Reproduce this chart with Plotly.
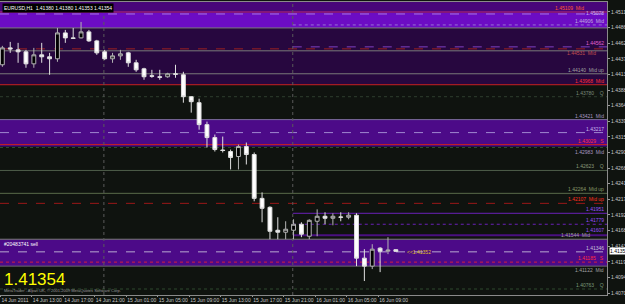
import plotly.graph_objects as go

# ---------------- data ----------------
bars = list(range(51))
opens = [1.44281, 1.44546, 1.44515, 1.44484, 1.44296, 1.44437, 1.44406, 1.44375, 1.44781, 1.44703,
         1.44703, 1.44797, 1.44656, 1.44484, 1.44375, 1.44421, 1.44468, 1.44312, 1.44218, 1.44109,
         1.44093, 1.44093, 1.44140, 1.44124, 1.43780, 1.43686, 1.43342, 1.43139, 1.42944, 1.42920,
         1.42842, 1.42998, 1.42873, 1.42185, 1.42045, 1.41685, 1.41654, 1.41685, 1.41779, 1.41591,
         1.41826, 1.41904, 1.41873, 1.41893, 1.41889, 1.41920, 1.41247, 1.41122, 1.41404, 1.41357,
         1.41380]
highs = [1.44578, 1.44640, 1.44625, 1.44515, 1.44546, 1.44625, 1.44468, 1.44859, 1.44828, 1.44859,
         1.44953, 1.44828, 1.44672, 1.44515, 1.44468, 1.44515, 1.44484, 1.44359, 1.44234, 1.44202,
         1.44202, 1.44156, 1.44281, 1.44171, 1.43790, 1.43749, 1.43389, 1.43186, 1.43155, 1.42951,
         1.43029, 1.43061, 1.42905, 1.42279, 1.42060, 1.41889, 1.41826, 1.41857, 1.41810, 1.41857,
         1.42013, 1.41967, 1.41951, 1.41967, 1.41967, 1.41951, 1.41388, 1.41466, 1.41419, 1.41576,
         1.41380]
lows = [1.44249, 1.44468, 1.44312, 1.44234, 1.44234, 1.44312, 1.44124, 1.44328, 1.44625, 1.44687,
        1.44695, 1.44640, 1.44437, 1.44359, 1.44312, 1.44359, 1.44249, 1.44171, 1.44046, 1.44077,
        1.44046, 1.44077, 1.44077, 1.43686, 1.43530, 1.43263, 1.42983, 1.42920, 1.42905, 1.42639,
        1.42639, 1.42717, 1.42139, 1.41810, 1.41544, 1.41544, 1.41544, 1.41544, 1.41576, 1.41544,
        1.41591, 1.41779, 1.41763, 1.41826, 1.41857, 1.41122, 1.40888, 1.41075, 1.41028, 1.41310,
        1.41353]
closes = [1.44546, 1.44530, 1.44484, 1.44296, 1.44437, 1.44406, 1.44375, 1.44781, 1.44703, 1.44695,
          1.44797, 1.44656, 1.44468, 1.44375, 1.44421, 1.44453, 1.44312, 1.44202, 1.44093, 1.44101,
          1.44085, 1.44140, 1.44132, 1.43780, 1.43702, 1.43342, 1.43139, 1.42951, 1.42936, 1.42827,
          1.42998, 1.42873, 1.42185, 1.42029, 1.41669, 1.41654, 1.41701, 1.41779, 1.41623, 1.41841,
          1.41904, 1.41873, 1.41904, 1.41889, 1.41920, 1.41247, 1.41122, 1.41388, 1.41357, 1.41372,
          1.41354]

price_ticks = [1.40700, 1.40945, 1.41190, 1.41435, 1.41680, 1.41925, 1.42170, 1.42415, 1.42660,
               1.42905, 1.43150, 1.43395, 1.43640, 1.43885, 1.44130, 1.44375, 1.44620, 1.44865, 1.45110]
time_tick_bars = [0, 4, 8, 12, 16, 20, 24, 28, 32, 36, 40, 44, 48]
time_tick_labels = ["14 Jun 2011", "14 Jun 13:00", "14 Jun 17:00", "14 Jun 21:00", "15 Jun 01:00",
                    "15 Jun 05:00", "15 Jun 09:00", "15 Jun 13:00", "15 Jun 17:00", "15 Jun 21:00",
                    "16 Jun 01:00", "16 Jun 05:00", "16 Jun 09:00"]

# zones: (top price, bottom price, colour)
zone_tops = [1.45266, 1.45094, 1.44859, 1.43421, 1.41544]
zone_bottoms = [1.45094, 1.44859, 1.43968, 1.42998, 1.41122]
zone_colors = ["#48067a", "#6c0cc4", "#27073f", "#4c0a88", "#4c0a88"]

# horizontal levels
level_prices = [1.45109, 1.45078, 1.44906, 1.44859, 1.44562, 1.44531, 1.44500, 1.44140, 1.43968,
                1.43780, 1.43421, 1.43217, 1.43029, 1.42983, 1.42623, 1.42264, 1.42107, 1.41951,
                1.41779, 1.41607, 1.41544, 1.41346, 1.41185, 1.41122, 1.40763]
level_colors = ["#c02878", "#a878e0", "#9a70d8", "#7a7a7a", "#8040c0", "#9a2020", "#7a7a7a", "#7a7a7a",
                "#c82020", "#2e3e2e", "#7a6a9a", "#a088d0", "#c82020", "#2e4a2e", "#4e5e4a", "#5a6a4a",
                "#9a1818", "#6a20b8", "#6a20b8", "#4a1080", "#7a7a7a", "#b8a8d0", "#d02040", "#6a6a6a",
                "#2e4a2e"]
level_dash = ["solid", "dash", "dot", "solid", "dash", "dash", "solid", "solid", "solid", "dot",
              "solid", "dash", "solid", "dot", "solid", "solid", "dash", "solid", "dot", "solid",
              "solid", "dash", "dot", "solid", "dot"]
level_start = [None, None, 36.9, None, 36.9, None, None, None, None, None, None, None, None, None,
               None, None, None, 36.9, 36.9, 36.9, None, None, None, None, None]
level_width = [1, 1, 1, 1, 1, 1, 1, 1, 1, 1, 1, 1, 1, 1, 1, 1, 1, 1, 1, 2, 1, 1, 1, 1, 1]

# level labels
label_prices = [1.45109, 1.45078, 1.44906, 1.44562, 1.44531, 1.44140, 1.43968, 1.43780, 1.43421,
                1.43217, 1.43029, 1.42983, 1.42623, 1.42264, 1.42107, 1.41951, 1.41779, 1.41607,
                1.41544, 1.41346, 1.41185, 1.41122, 1.40763]
label_texts = ["1.45109  Mid", "1.45078", "1.44906  Mid", "1.44562", "1.44531  Mid", "1.44140  Mid up",
               "1.43968  Mid", "1.43780    Q", "1.43421  Mid", "1.43217", "1.43029   S", "1.42983  Mid",
               "1.42623    Q", "1.42264  Mid up", "1.42107  Mid up", "1.41951", "1.41779", "1.41607",
               "1.41544  Mid", "1.41346", "1.41185   S", "1.41122  Mid", "1.40763    Q"]
label_colors = ["#ff5a28", "#c8b0f0", "#c0b0e0", "#e060d0", "#c05050", "#a0a0a0", "#ff3030", "#7a8a7a",
                "#a898c0", "#c8b8e8", "#ff3040", "#a898c0", "#8a9a7a", "#8a9a6a", "#ff3020", "#9a50ff",
                "#9a50ff", "#9a50ff", "#a0a0a0", "#c8c0d8", "#ff2a40", "#a0a0a0", "#7a9a7a"]
label_anchor = ["bottom", "middle", "bottom", "bottom", "top", "bottom", "bottom", "bottom", "bottom",
                "bottom", "bottom", "top", "bottom", "bottom", "bottom", "bottom", "bottom", "bottom",
                "bottom", "bottom", "bottom", "top", "bottom"]
label_dx = [-20, 0, 0, 0, -8, 0, 0, 0, 0, 0, 0, 0, 0, 0, 0, 0, 0, 0, -14, 0, 0, 0, 0]
label_dy = [0, 1, 0, 0, 0, 0, 0, 0, 0, 0, 0, 0, 0, 0, 0, 0, 0, 1, 0, 0, 0, 0, 0]

separator_bars = [12.9, 36.9]

last_price = 1.41354
order_price = 1.41346
title_text = "EURUSD,H1  1.41380 1.41380 1.41353 1.41354"

# ---------------- figure ----------------
BG = "#0f130f"
FONT = "Liberation Sans"

fig = go.Figure()
fig.add_trace(go.Candlestick(
    x=bars, open=opens, high=highs, low=lows, close=closes,
    increasing=dict(line=dict(color="#b4b4b4", width=1), fillcolor="#000000"),
    decreasing=dict(line=dict(color="#e0e0e0", width=1), fillcolor="#ffffff"),
    whiskerwidth=0, showlegend=False, hoverinfo="skip",
))

shapes = []
for t, b, c in zip(zone_tops, zone_bottoms, zone_colors):
    shapes.append(dict(type="rect", xref="paper", x0=0, x1=1, yref="y", y0=b, y1=t,
                       fillcolor=c, line=dict(width=0), layer="below"))
for p, c, d, s, w in zip(level_prices, level_colors, level_dash, level_start, level_width):
    if s is None:
        shapes.append(dict(type="line", xref="paper", x0=0, x1=1, yref="y", y0=p, y1=p,
                           line=dict(color=c, width=w, dash=d), layer="below"))
    else:
        shapes.append(dict(type="line", xref="x", x0=s, x1=80, yref="y", y0=p, y1=p,
                           line=dict(color=c, width=w, dash=d), layer="below"))
for sx in separator_bars:
    shapes.append(dict(type="line", xref="x", x0=sx, x1=sx, yref="paper", y0=0, y1=1,
                       line=dict(color="#5a5a5a", width=1, dash="dot"), layer="below"))

annotations = []
for p, t, c, a, dx, dy in zip(label_prices, label_texts, label_colors, label_anchor, label_dx, label_dy):
    annotations.append(dict(xref="paper", x=0.997, y=p, yref="y", text=t, showarrow=False,
                            xanchor="right", yanchor=a, xshift=dx, yshift=dy, borderpad=0,
                            font=dict(family=FONT, size=5, color=c)))

annotations += [
    dict(xref="paper", yref="paper", x=0.003, y=0.997, text=title_text, showarrow=False,
         xanchor="left", yanchor="top", bgcolor="#000000", borderpad=1,
         font=dict(family=FONT, size=5, color="#ffffff")),
    dict(xref="paper", yref="y", x=0.004, y=1.40763, text="1.41354", showarrow=False,
         xanchor="left", yanchor="bottom", yshift=-2,
         font=dict(family=FONT, size=17, color="#ffff00")),
    dict(xref="paper", yref="paper", x=0.004, y=0.0, text="MetaTrader - Alpari UK, © 2001-2009 MetaQuotes Software Corp.",
         showarrow=False, xanchor="left", yanchor="bottom",
         font=dict(family=FONT, size=4, color="#9a9a9a")),
    dict(xref="paper", yref="y", x=0.004, y=1.41544, text="#20483741 sell", showarrow=False,
         xanchor="left", yanchor="top",
         font=dict(family=FONT, size=5, color="#ffffff")),
    dict(xref="x", yref="y", x=51.2, y=order_price, text="<<1.41352", showarrow=False,
         xanchor="left", yanchor="middle",
         font=dict(family=FONT, size=5, color="#e0c020")),
    dict(xref="paper", yref="y", x=1.0, y=last_price, text="1.41354", showarrow=False,
         xanchor="left", yanchor="middle", xshift=2, bgcolor="#ffffff", borderpad=0,
         font=dict(family=FONT, size=5, color="#000000")),
]

fig.update_layout(
    width=625, height=304,
    margin=dict(l=0, r=18, t=2, b=9, autoexpand=False),
    paper_bgcolor=BG, plot_bgcolor=BG,
    shapes=shapes, annotations=annotations,
    showlegend=False,
    xaxis=dict(range=[-0.3, 76.83], rangeslider=dict(visible=False), showgrid=False, zeroline=False,
               tickmode="array", tickvals=[b - 0.25 for b in time_tick_bars], ticktext=time_tick_labels,
               ticklabelposition="outside right", ticks="outside", ticklen=1, tickcolor="#9a9a9a",
               ticklabelstandoff=0, tickangle=0,
               tickfont=dict(family=FONT, size=5, color="#c8c8c8"),
               showline=True, linecolor="#8a8a8a", linewidth=1, mirror=True, automargin=False),
    yaxis=dict(range=[1.40669, 1.45266], side="right", showgrid=False, zeroline=False,
               tickmode="array", tickvals=price_ticks, ticktext=[f"{v:.5f}" for v in price_ticks],
               ticks="outside", ticklen=2, tickcolor="#9a9a9a",
               tickfont=dict(family=FONT, size=5, color="#c8c8c8"),
               showline=True, linecolor="#8a8a8a", linewidth=1, mirror=True, automargin=False),
)

fig.write_html("out.html")
